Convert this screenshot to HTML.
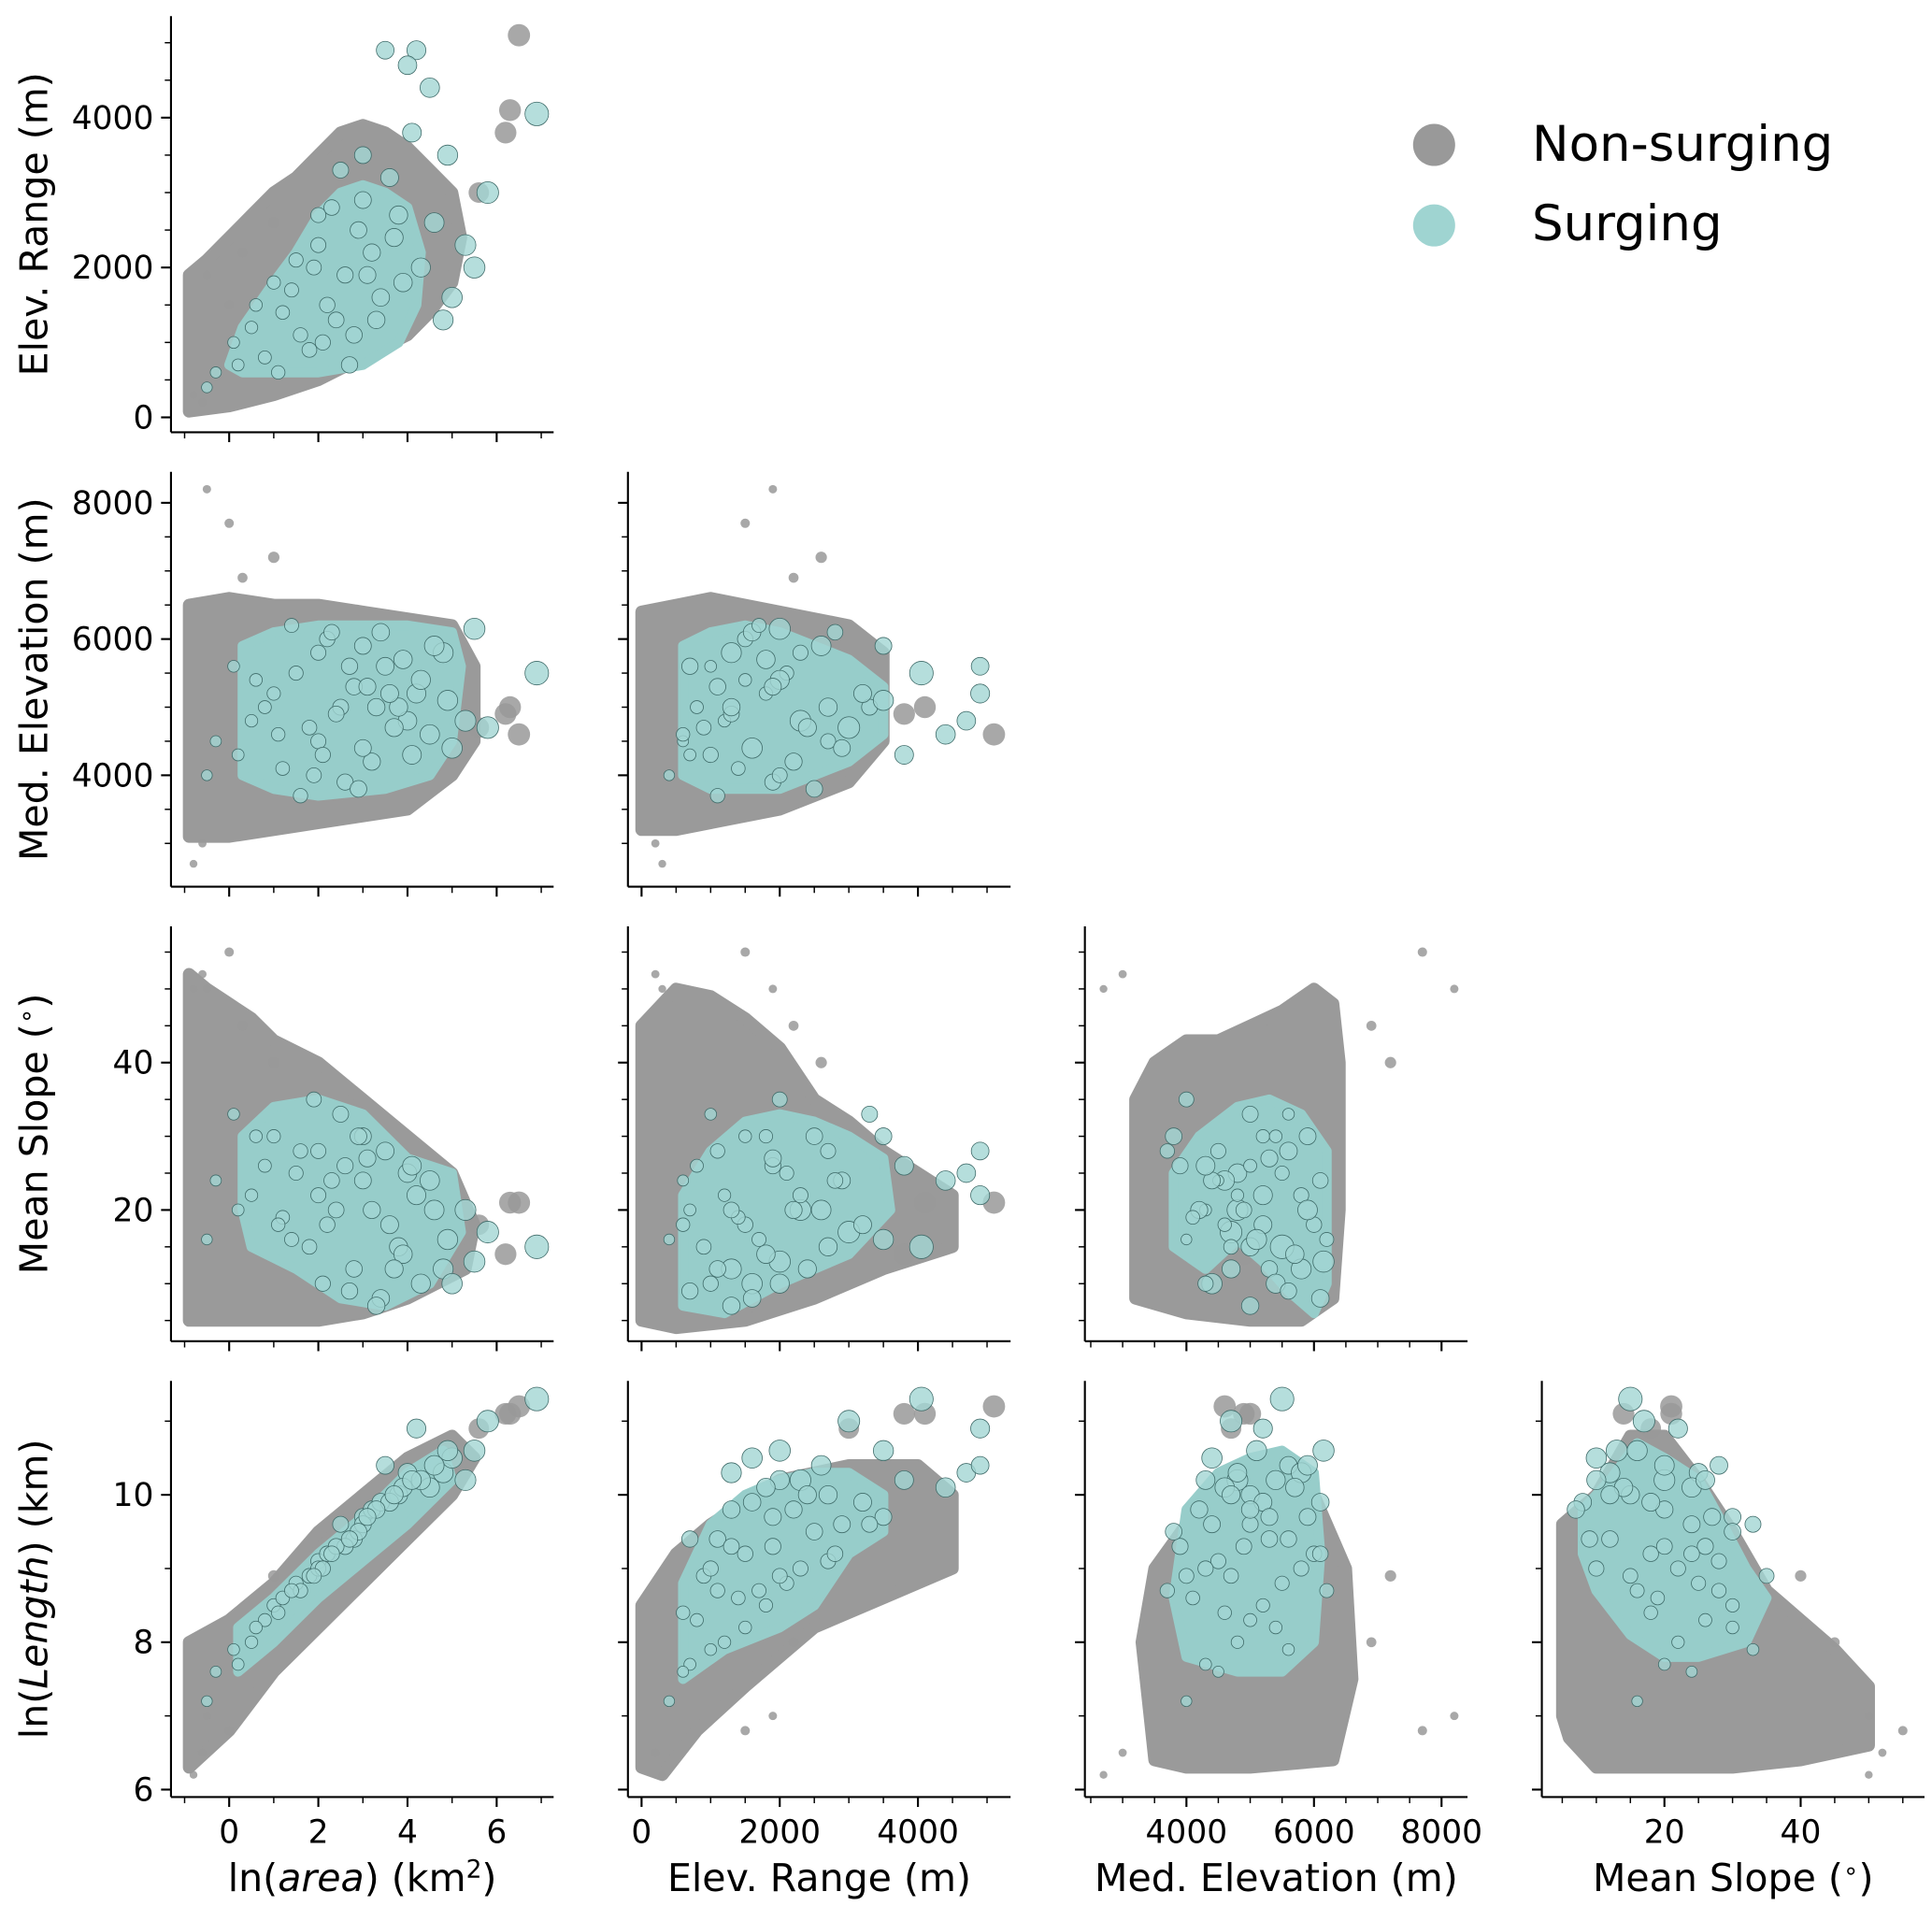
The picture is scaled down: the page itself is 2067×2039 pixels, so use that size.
<!DOCTYPE html>
<html><head><meta charset="utf-8"><style>
html,body{margin:0;padding:0;background:#fff}
svg{display:block}
text{font-family:"DejaVu Sans","Liberation Sans",sans-serif;fill:#000}
</style></head><body>
<svg id="fig" width="2067" height="2039" viewBox="0 0 1560 1539" xmlns="http://www.w3.org/2000/svg">
<g>
<circle cx="1158" cy="117" r="17" fill="#999"/>
<text x="1237" y="130" font-size="40">Non-surging</text>
<circle cx="1158" cy="182" r="17" fill="#9fd4d1"/>
<text x="1237" y="194" font-size="40">Surging</text>
</g>
</svg>
<script>
const varNames = ["ln(area)","Elev. Range","Med. Elevation","Mean Slope","ln(Length)"];
const surgeArea  = [6.9,5.8,5.5,5.3,4.2,4.0,3.5,4.5,4.8,5.0,3.0,2.5,2.0,1.5,1.0,0.5,0.2,-0.3,-0.5,0.1,2.2,2.8,3.2,3.8,4.3,1.8,2.6,3.4,1.2,2.0,3.0,3.6,1.6,0.8,2.4,3.9,4.6,2.9,1.4,2.1,3.3,4.1,0.6,1.9,2.7,3.7,4.9,1.1,2.3,3.1];
const surgeRange = [4050,3000,2000,2300,4900,4700,4900,4400,1300,1600,3500,3300,2700,2100,1800,1200,700,600,400,1000,1500,1100,2200,2700,2000,900,1900,1600,1400,2300,2900,3200,1100,800,1300,1800,2600,2500,1700,1000,1300,3800,1500,2000,700,2400,3500,600,2800,1900];
const surgeElev  = [5500,4700,6150,4800,5200,4800,5600,4600,5800,4400,5900,5000,4500,5500,5200,4800,4300,4500,4000,5600,6000,5300,4200,5000,5400,4700,3900,6100,4100,5800,4400,5200,3700,5000,4900,5700,5900,3800,6200,4300,5000,4300,5400,4000,5600,4700,5100,4600,6100,5300];
const surgeSlope = [15,17,13,20,22,25,28,24,12,10,30,33,28,25,30,22,20,24,16,33,18,12,20,15,10,15,26,8,19,22,24,18,28,26,20,14,20,30,16,10,7,26,30,35,9,12,16,18,24,27];
const surgeLen   = [11.3,11.0,10.6,10.2,10.9,10.3,10.4,10.1,10.3,10.5,9.7,9.6,9.1,8.8,8.5,8.0,7.7,7.6,7.2,7.9,9.2,9.4,9.8,10.0,10.2,8.9,9.3,9.9,8.6,9.0,9.6,9.9,8.7,8.3,9.3,10.1,10.4,9.5,8.7,9.0,9.8,10.2,8.2,8.9,9.4,10.0,10.6,8.4,9.2,9.7];
const greyArea  = [6.5,6.2,6.3,-0.5,0.0,5.6,-0.8,1.0,0.3,-0.6];
const greyRange = [5100,3800,4100,1900,1500,3000,300,2600,2200,200];
const greyElev  = [4600,4900,5000,8200,7700,4700,2700,7200,6900,3000];
const greySlope = [21,14,21,50,55,18,50,40,45,52];
const greyLen   = [11.2,11.1,11.1,7.0,6.8,10.9,6.2,8.9,8.0,6.5];
const greyHullX = {
 "1-0":[-0.9,-0.9,-0.5,0,0.5,1,1.5,2,2.5,3,3.5,4,4.5,5,5.2,5,4.5,4,3,2,1,0],
 "2-0":[-0.9,-0.9,0,1,2,3,4,5,5.5,5.5,5,4,3,2,1,0],
 "2-1":[0,0,500,1000,1500,2000,3000,3500,3500,3000,2000,1000,500],
 "3-0":[-0.9,-0.9,-0.5,0,0.5,1,2,3,4,5,5.5,5.3,4,3,2,1,0],
 "3-1":[0,0,500,1000,1500,2000,2500,3000,3500,4000,4500,4500,3500,2500,1500,500],
 "3-2":[3200,3200,3500,4000,4500,5000,5500,6000,6300,6400,6400,6300,5800,5000,4000],
 "4-0":[-0.9,-0.9,0,1,2,3,4,5,5.5,5,4,3,2,1,0],
 "4-1":[0,0,500,1000,2000,3000,4000,4500,4500,3500,2500,1500,800,300],
 "4-2":[3500,3300,3500,4000,5000,6000,6500,6600,6300,5000,4000],
 "4-3":[5,5,10,15,20,25,30,35,40,45,50,50,40,30,20,10,6]};
const greyHullY = {
 "1-0":[80,1900,2100,2400,2700,3000,3200,3500,3800,3900,3800,3600,3300,3000,2400,1800,1400,1100,800,500,300,150],
 "2-0":[3100,6500,6600,6500,6500,6400,6300,6200,5600,4500,4000,3500,3400,3300,3200,3100],
 "2-1":[3200,6400,6500,6600,6500,6400,6200,5800,4500,3900,3500,3300,3200],
 "3-0":[5,52,50,48,46,43,40,35,30,25,18,12,8,6,5,5,5],
 "3-1":[5,45,50,49,46,42,35,32,28,25,22,15,12,8,5,4],
 "3-2":[8,35,40,43,43,45,47,50,48,40,20,8,5,5,6],
 "4-0":[6.3,8,8.3,8.8,9.5,10,10.5,10.8,10.5,10,9.4,8.8,8.2,7.6,6.8],
 "4-1":[6.3,8.5,9.2,9.6,10.2,10.4,10.4,10,9,8.6,8.2,7.4,6.8,6.2],
 "4-2":[6.4,8,9,9.6,10,10,9,7.5,6.4,6.3,6.3],
 "4-3":[7,9.6,10,10.8,10.8,10.2,9.5,8.7,8.3,7.9,7.4,6.6,6.4,6.3,6.3,6.3,6.7]};
const surgeHullX = {
 "1-0":[0,0.3,1,1.5,2,2.5,3,3.5,4,4.3,4.2,3.8,3,2,1,0.3],
 "2-0":[0.3,0.3,1,2,3,4,5,5.2,5,4.5,3.5,2,1],
 "2-1":[600,600,1000,1500,2000,2500,3000,3500,3500,3000,2000,1000],
 "3-0":[0.3,0.3,1,2,3,4,5,5.2,4.5,3.5,2.5,1.5,0.5],
 "3-1":[600,600,1000,1500,2000,2500,3000,3500,3600,3000,2000,1200],
 "3-2":[3800,3800,4200,4800,5300,5800,6200,6200,6000,5600,5200,4800,4300],
 "4-0":[0.2,0.2,1,2,3,4,4.8,5,4,3,2,1],
 "4-1":[600,600,1000,1500,2000,2500,3000,3500,3500,3000,2500,2000,1200],
 "4-2":[4000,3800,4000,4500,5000,5500,6000,6100,6000,5500,4800],
 "4-3":[8,8,12,16,20,25,28,32,35,32,25,20,15,10]};
const surgeHullY = {
 "1-0":[700,1200,1800,2200,2700,3000,3100,3000,2800,2200,1500,1000,700,600,600,600],
 "2-0":[4000,5900,6100,6200,6200,6200,6100,5600,4500,4000,3800,3700,3800],
 "2-1":[4000,5900,6100,6200,6100,5900,5700,5300,4600,4200,3800,3800],
 "3-0":[20,30,34,35,33,27,25,17,10,7,8,12,15],
 "3-1":[7,22,28,32,33,32,30,27,20,14,10,6],
 "3-2":[15,25,30,34,35,33,28,10,6,9,13,16,12],
 "4-0":[7.6,8.2,8.6,9.2,9.7,10.3,10.6,10.2,9.6,9.1,8.6,8.0],
 "4-1":[7.5,8.8,9.6,10,10.2,10.3,10.3,10,9.5,9.2,8.5,8.2,7.9],
 "4-2":[7.8,8.6,9.8,10.3,10.5,10.6,10.3,9.2,8,7.6,7.6],
 "4-3":[9.2,9.8,10.2,10.7,10.5,10.2,9.7,9,8.6,8.0,7.8,7.8,8.1,8.7]};
const xTickLabels = [[0,2,4,6],[0,2000,4000],[4000,6000,8000],[20,40]];
const yTickLabels = [[0,2000,4000],[4000,6000,8000],[20,40],[6,8,10]];

const NS="http://www.w3.org/2000/svg";
const svg=document.getElementById('fig');
function mk(tag,attrs,parent){const e=document.createElementNS(NS,tag);for(const k in attrs)e.setAttribute(k,attrs[k]);(parent||svg).appendChild(e);return e;}
const colLeft=[138,507,876,1245], W=309;
const rowTop=[13,381,748,1115], rowBot=[349,716,1083,1451];
const xMap=[v=>185+36*v, v=>518+0.0558*v, v=>958+0.0515*(v-4000), v=>1234+5.5*v];
const yMap=[v=>337-0.0605*v, v=>626-0.055*(v-4000), v=>977-5.95*(v-20), v=>1445-59.5*(v-6)];
const xMinor=[[-1,7,1],[0,5000,500],[2500,8500,500],[5,55,5]];
const yMinor=[[0,5000,500],[3000,8000,500],[5,55,5],[6,11,1]];
const surgeCols=[surgeArea,surgeRange,surgeElev,surgeSlope,surgeLen];
const greyCols=[greyArea,greyRange,greyElev,greySlope,greyLen];
const xTitles=['ln(<tspan font-style="italic">area</tspan>) (km<tspan dy="-11" font-size="20">2</tspan><tspan dy="11">)</tspan>','Elev. Range (m)','Med. Elevation (m)','Mean Slope (<tspan dy="-10" font-size="20">∘</tspan><tspan dy="10">)</tspan>'];
const yTitles=['Elev. Range (m)','Med. Elevation (m)','Mean Slope (<tspan dy="-10" font-size="20">∘</tspan><tspan dy="10">)</tspan>','ln(<tspan font-style="italic">Length</tspan>) (km)'];

for(let r=0;r<4;r++){
 for(let c=0;c<=r;c++){
  const g=mk('g',{});
  
  
  const key=(r+1)+'-'+c;
  const xv=c, yv=r+1;
  const clipId='clip'+r+c;
  const cp=mk('clipPath',{id:clipId},g);
  mk('rect',{x:colLeft[c]+1,y:rowTop[r]-5,width:W,height:rowBot[r]-rowTop[r]+4},cp);
  const pg=mk('g',{'clip-path':'url(#'+clipId+')'},g);
  const gh=greyHullX[key].map((x,i)=>xMap[c](x)+','+yMap[r](greyHullY[key][i])).join(' ');
  const gp=mk('polygon',{points:gh,fill:'#9a9a9a','stroke':'#9a9a9a','stroke-width':10,'stroke-linejoin':'round'},pg);
  
  
  for(let i=0;i<greyArea.length;i++){
   const ci=mk('circle',{cx:xMap[c](greyCols[xv][i]),cy:yMap[r](greyCols[yv][i]),r:3+0.8*(greyArea[i]+1),fill:'#999','fill-opacity':0.85},pg);
   
   
  }
  const sh=surgeHullX[key].map((x,i)=>xMap[c](x)+','+yMap[r](surgeHullY[key][i])).join(' ');
  const sp=mk('polygon',{points:sh,fill:'#97cdca',stroke:'#97cdca','stroke-width':8,'stroke-linejoin':'round'},pg);
  
  
  for(let i=0;i<surgeArea.length;i++){
   const ci=mk('circle',{cx:xMap[c](surgeCols[xv][i]),cy:yMap[r](surgeCols[yv][i]),r:4+0.7*(surgeArea[i]+1),fill:'#a2d6d3','fill-opacity':0.8,stroke:'#3f6b69','stroke-width':0.6},pg);
   
   
  }
  const ax=mk('line',{x1:colLeft[c],x2:colLeft[c]+W,y1:rowBot[r],y2:rowBot[r],stroke:'#000','stroke-width':1.6},g);
  
  
  const ay=mk('line',{x1:colLeft[c],x2:colLeft[c],y1:rowTop[r],y2:rowBot[r],stroke:'#000','stroke-width':1.6},g);
  
  
  const [x0,x1,xs]=xMinor[c];
  for(let v=x0;v<=x1+1e-9;v+=xs){const px=xMap[c](v);if(px<colLeft[c]+2||px>colLeft[c]+W)continue;
   const maj=xTickLabels[c].includes(v);
   mk('line',{x1:px,x2:px,y1:rowBot[r],y2:rowBot[r]+(maj?8:5),stroke:'#000','stroke-width':maj?1.6:1.1},g);}
  const [y0,y1,ys]=yMinor[r];
  for(let v=y0;v<=y1+1e-9;v+=ys){const py=yMap[r](v);if(py>rowBot[r]-2||py<rowTop[r])continue;
   const maj=yTickLabels[r].includes(v);
   mk('line',{x1:colLeft[c]-(maj?8:5),x2:colLeft[c],y1:py,y2:py,stroke:'#000','stroke-width':maj?1.6:1.1},g);}
  if(c===0){
   yTickLabels[r].forEach(v=>{const t=mk('text',{x:colLeft[c]-14,y:yMap[r](v)+9,'text-anchor':'end','font-size':26},g);t.textContent=v;
    
    });
   const cy=(rowTop[r]+rowBot[r])/2;
   const t=mk('text',{x:0,y:0,transform:'translate(38,'+cy+') rotate(-90)','text-anchor':'middle','font-size':31},g);
   t.innerHTML=yTitles[r];
   
   
  }
  if(r===3){
   xTickLabels[c].forEach(v=>{const t=mk('text',{x:xMap[c](v),y:1488,'text-anchor':'middle','font-size':26},g);t.textContent=v;
    
    });
   const t=mk('text',{x:colLeft[c]+W/2,y:1527,'text-anchor':'middle','font-size':31},g);
   t.innerHTML=xTitles[c];
   
   
  }
 }
}
</script>
</body></html>
